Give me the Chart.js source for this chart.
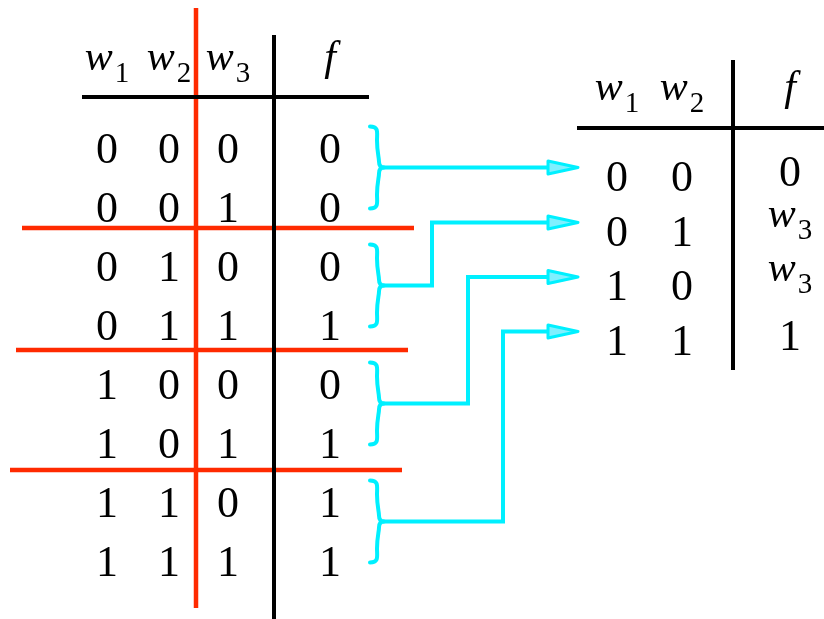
<!DOCTYPE html>
<html>
<head>
<meta charset="utf-8">
<script src="https://cdn.jsdelivr.net/npm/chart.js@4.4.1/dist/chart.umd.min.js"></script>
<style>
  html, body { margin: 0; padding: 0; background: #fff; }
  canvas { display: block; }
</style>
</head>
<body>
<canvas id="chart" width="824" height="619"></canvas>
<script>
// truth table for f(w1, w2, w3)
const headerFull = ['w1', 'w2', 'w3', 'f'];
const w1Values = [0, 0, 0, 0, 1, 1, 1, 1];
const w2Values = [0, 0, 1, 1, 0, 0, 1, 1];
const w3Values = [0, 1, 0, 1, 0, 1, 0, 1];
const fValues = [0, 0, 0, 1, 0, 1, 1, 1];

// reduced table, f expressed in w3
const headerReduced = ['w1', 'w2', 'f'];
const reducedW1 = [0, 0, 1, 1];
const reducedW2 = [0, 1, 0, 1];
const reducedF = ['0', 'w3', 'w3', '1'];

const RED = '#ff2a00';
const CYAN = '#00f0ff';
const BLACK = '#000';
const FAMILY = '"Liberation Serif", serif';

// layout (pixel space, scales are 1:1 with the canvas)
const leftCols = [107, 169, 228, 330];
const rightCols = [617, 682, 790];
const leftRowY = (i) => 148 + i * 59;
const rightRowY = (i) => 176 + i * 54.5;
const groupSepY = [228, 350, 470];
const groupSepX = [[22, 414], [16, 408], [10, 402]];
const braceX = 370;
const bendX = [null, 432, 468, 503];
const arrowBaseX = 548;
const arrowTipX = 578;

const braceMid = (g) => (leftRowY(2 * g) + leftRowY(2 * g + 1)) / 2 - 10;
const arrowY = (g) => (g === 0 ? braceMid(0) : rightRowY(g) - 8);

function seg(points, color, width) {
  return {
    type: 'line',
    data: points.map(([x, y]) => ({ x, y })),
    borderColor: color,
    borderWidth: width || 4,
    pointRadius: 0,
    tension: 0,
    fill: false,
    clip: false,
    borderCapStyle: 'butt',
    borderJoinStyle: 'miter',
  };
}

const datasets = [
  seg([[82, 97], [369, 97]], BLACK),
  seg([[274, 35], [274, 619]], BLACK),
  seg([[577, 128], [824, 128]], BLACK),
  seg([[733, 60], [733, 370]], BLACK),
  seg([[196, 8], [196, 608]], RED, 4.5),
];
groupSepY.forEach((y, i) => {
  datasets.push(seg([[groupSepX[i][0], y], [groupSepX[i][1], y]], RED, 4.5));
});
for (let g = 0; g < 4; ++g) {
  const ty = braceMid(g);
  const ay = arrowY(g);
  const pts = bendX[g] == null
    ? [[braceX + 13, ty], [arrowBaseX, ay]]
    : [[braceX + 13, ty], [bendX[g], ty], [bendX[g], ay], [arrowBaseX, ay]];
  datasets.push(seg(pts, CYAN, 4));
}

function setFont(ctx, size, italic) {
  ctx.font = (italic ? 'italic ' : '') + size + 'px ' + FAMILY;
}

// draws "0", "1", "f" or "wN" centred on cx
function drawLabel(ctx, label, cx, baseline) {
  ctx.fillStyle = BLACK;
  ctx.textBaseline = 'alphabetic';
  ctx.textAlign = 'left';
  if (label === 'f') {
    setFont(ctx, 42, true);
    const w = ctx.measureText('f').width;
    ctx.fillText('f', cx - w / 2, baseline);
    return;
  }
  if (label[0] === 'w') {
    const sub = label.slice(1);
    setFont(ctx, 42, true);
    const ww = ctx.measureText('w').width;
    setFont(ctx, 29, false);
    const sw = ctx.measureText(sub).width;
    const x0 = cx - (ww + 2 + sw) / 2;
    setFont(ctx, 42, true);
    ctx.fillText('w', x0, baseline);
    setFont(ctx, 29, false);
    ctx.fillText(sub, x0 + ww + 2, baseline + 12);
    return;
  }
  setFont(ctx, 44, false);
  const w = ctx.measureText(label).width;
  ctx.fillText(label, cx - w / 2, baseline);
}

function drawBrace(ctx, x0, mid, half) {
  const xv = x0 + 8;
  const xt = x0 + 14;
  const top = mid - half;
  const bottom = mid + half;
  ctx.beginPath();
  ctx.moveTo(x0, top);
  ctx.bezierCurveTo(x0 + 9, top, xv - 1, top + 6, xv - 1, top + 14);
  ctx.bezierCurveTo(xv - 1, mid - 16, xv + 1, mid - 10, xv + 1, mid - 6);
  ctx.quadraticCurveTo(xv + 1, mid, xt, mid);
  ctx.quadraticCurveTo(xv + 1, mid, xv + 1, mid + 6);
  ctx.bezierCurveTo(xv + 1, mid + 10, xv - 1, mid + 16, xv - 1, bottom - 14);
  ctx.bezierCurveTo(xv - 1, bottom - 6, x0 + 9, bottom, x0, bottom);
  ctx.stroke();
}

const tablePlugin = {
  id: 'truthTable',
  afterDatasetsDraw(chart) {
    const ctx = chart.ctx;
    const xs = chart.scales.x;
    const ys = chart.scales.y;
    const px = (v) => xs.getPixelForValue(v);
    const py = (v) => ys.getPixelForValue(v);
    ctx.save();

    headerFull.forEach((h, c) => drawLabel(ctx, h, px(leftCols[c]), py(70)));
    const cols = [w1Values, w2Values, w3Values, fValues];
    for (let r = 0; r < fValues.length; ++r) {
      cols.forEach((col, c) => drawLabel(ctx, String(col[r]), px(leftCols[c]), py(leftRowY(r) + 15)));
    }

    headerReduced.forEach((h, c) => drawLabel(ctx, h, px(rightCols[c]), py(100)));
    for (let r = 0; r < reducedF.length; ++r) {
      drawLabel(ctx, String(reducedW1[r]), px(rightCols[0]), py(rightRowY(r) + 15));
      drawLabel(ctx, String(reducedW2[r]), px(rightCols[1]), py(rightRowY(r) + 15));
      const lbl = reducedF[r];
      const base = lbl[0] === 'w' ? rightRowY(r) - 4 : rightRowY(r) + 10;
      drawLabel(ctx, lbl, px(rightCols[2]), py(base));
    }

    ctx.strokeStyle = CYAN;
    ctx.lineWidth = 4;
    ctx.lineCap = 'round';
    ctx.lineJoin = 'round';
    for (let g = 0; g < 4; ++g) {
      drawBrace(ctx, px(braceX), py(braceMid(g)), 41);
    }

    // arrow heads
    for (let g = 0; g < 4; ++g) {
      const ay = py(arrowY(g));
      ctx.beginPath();
      ctx.moveTo(px(arrowBaseX), ay - 6.5);
      ctx.lineTo(px(arrowTipX), ay);
      ctx.lineTo(px(arrowBaseX), ay + 6.5);
      ctx.closePath();
      ctx.fillStyle = '#7ff0ff';
      ctx.fill();
      ctx.lineWidth = 3;
      ctx.stroke();
    }
    ctx.restore();
  },
};

new Chart(document.getElementById('chart'), {
  type: 'scatter',
  data: { datasets },
  plugins: [tablePlugin],
  options: {
    responsive: false,
    animation: false,
    devicePixelRatio: 1,
    layout: { padding: 0 },
    events: [],
    scales: {
      x: { type: 'linear', min: 0, max: 824, display: false },
      y: { type: 'linear', min: 0, max: 619, reverse: true, display: false },
    },
    plugins: {
      legend: { display: false },
      tooltip: { enabled: false },
    },
  },
});
</script>
</body>
</html>
